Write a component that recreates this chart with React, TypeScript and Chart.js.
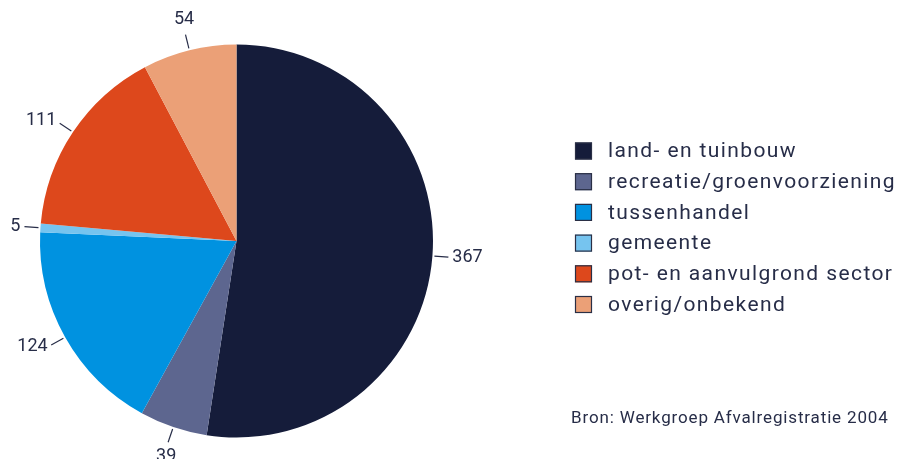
import React, { useEffect, useRef } from "react";
import { Chart, registerables } from "chart.js";

Chart.register(...registerables);

const categories = [
  "land- en tuinbouw",
  "recreatie/groenvoorziening",
  "tussenhandel",
  "gemeente",
  "pot- en aanvulgrond sector",
  "overig/onbekend",
];
const values = [367, 39, 124, 5, 111, 54];
const colors = ["#151c3a", "#5d668f", "#0092e0", "#76c4ef", "#dd481c", "#eba077"];
const sourceText = "Bron: Werkgroep Afvalregistratie 2004";

const TEXT = "#272d48";
const FONT = "Roboto";

const labelPlugin = {
  id: "outerLabels",
  afterDatasetsDraw(chart: any) {
    const ctx = chart.ctx;
    const meta = chart.getDatasetMeta(0);
    ctx.save();
    ctx.strokeStyle = TEXT;
    ctx.fillStyle = TEXT;
    ctx.lineWidth = 1.2;
    ctx.font = `18px ${FONT}`;
    meta.data.forEach((arc: any, i: number) => {
      const { x, y, startAngle, endAngle, outerRadius } = arc.getProps(
        ["x", "y", "startAngle", "endAngle", "outerRadius"],
        true
      );
      const mid = (startAngle + endAngle) / 2;
      const c = Math.cos(mid);
      const s = Math.sin(mid);
      ctx.beginPath();
      ctx.moveTo(x + c * (outerRadius + 2), y + s * (outerRadius + 2));
      ctx.lineTo(x + c * (outerRadius + 16), y + s * (outerRadius + 16));
      ctx.stroke();
      let tr = outerRadius + 20;
      if (Math.abs(c) > 0.45) {
        ctx.textAlign = c > 0 ? "left" : "right";
        ctx.textBaseline = "middle";
      } else {
        tr = outerRadius + 22;
        ctx.textAlign = "center";
        ctx.textBaseline = s < 0 ? "bottom" : "top";
      }
      ctx.fillText(String(values[i]), x + c * tr, y + s * tr);
    });
    ctx.restore();
  },
};

const legendPlugin = {
  id: "customLegend",
  afterDraw(chart: any) {
    const ctx = chart.ctx;
    ctx.save();
    const x0 = 575;
    const y0 = 151;
    const step = 30.7;
    const box = 17;
    ctx.font = `21px ${FONT}`;
    (ctx as any).letterSpacing = "1.4px";
    ctx.textBaseline = "middle";
    ctx.textAlign = "left";
    categories.forEach((name, i) => {
      const cy = y0 + i * step;
      ctx.fillStyle = colors[i];
      ctx.fillRect(x0, cy - box / 2, box, box);
      ctx.strokeStyle = "#2a2f45";
      ctx.lineWidth = 1.2;
      ctx.strokeRect(x0 + 0.5, cy - box / 2 + 0.5, box - 1, box - 1);
      ctx.fillStyle = TEXT;
      ctx.fillText(name, 608, cy + 1);
    });
    ctx.font = `17px ${FONT}`;
    (ctx as any).letterSpacing = "0.85px";
    ctx.fillText(sourceText, 571, 419);
    ctx.restore();
  },
};

export default function App() {
  const ref = useRef<HTMLCanvasElement | null>(null);
  useEffect(() => {
    if (!ref.current) return;
    const chart = new Chart(ref.current, {
      type: "pie",
      data: {
        labels: categories,
        datasets: [
          {
            data: values,
            backgroundColor: colors,
            borderWidth: 0,
          },
        ],
      },
      options: {
        animation: false,
        responsive: false,
        maintainAspectRatio: false,
        layout: { padding: { left: 40, top: 44, right: 467, bottom: 21 } },
        plugins: {
          legend: { display: false },
          tooltip: { enabled: false },
        },
      },
      plugins: [labelPlugin, legendPlugin],
    });
    return () => chart.destroy();
  }, []);
  return (
    <div style={{ position: "fixed", left: 0, top: 0, width: 900, height: 459, background: "#fff" }}>
      <canvas ref={ref} width={900} height={459} />
    </div>
  );
}
